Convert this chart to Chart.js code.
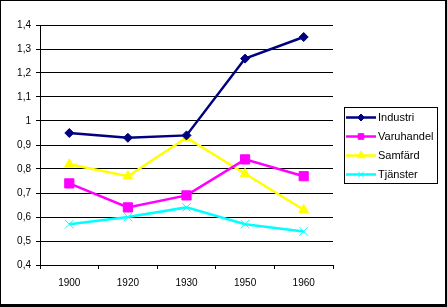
<!DOCTYPE html>
<html>
<head>
<meta charset="utf-8">
<script src="https://cdn.jsdelivr.net/npm/chart.js@4"></script>
<style>
  html, body { margin: 0; padding: 0; background: #fff; }
  canvas { display: block; }
</style>
</head>
<body>
<canvas id="chart" width="447" height="307"></canvas>
<script>
// data
const years = ['1900', '1920', '1930', '1950', '1960'];
const industri = [0.95, 0.93, 0.94, 1.26, 1.35];
const varuhandel = [0.74, 0.64, 0.69, 0.84, 0.77];
const samfard = [0.82, 0.77, 0.93, 0.78, 0.63];
const tjanster = [0.57, 0.60, 0.64, 0.57, 0.54];
const yMin = 0.4;
const yMax = 1.4;
const yStep = 0.1;

const FONT = '"Liberation Sans", Arial, sans-serif';

function fmt(v) {
  // 1.0 -> "1", 0.9 -> "0,9"
  return String(Number(v.toFixed(1))).replace('.', ',');
}

// white background + frame with heavier right/bottom edge
const framePlugin = {
  id: 'frame',
  beforeDraw(chart) {
    const { ctx, width, height } = chart;
    ctx.save();
    ctx.fillStyle = '#fff';
    ctx.fillRect(0, 0, width, height);
    ctx.fillStyle = '#000';
    ctx.fillRect(0, 0, width, 1);
    ctx.fillRect(0, 0, 1, height);
    ctx.fillRect(width - 2, 0, 2, height);
    ctx.fillRect(0, height - 3, width, 3);
    ctx.restore();
  },
};

const legendSizes = [3.5, 4, 4.5, 4];

const boxLegend = {
  id: 'boxLegend',
  afterDraw(chart) {
    const ctx = chart.ctx;
    ctx.save();
    ctx.strokeStyle = '#000';
    ctx.lineWidth = 1;
    ctx.strokeRect(344.5, 107.5, 93, 76);
    chart.data.datasets.forEach((ds, i) => {
      const y = 117.5 + i * 19;
      ctx.strokeStyle = ds.borderColor;
      ctx.lineWidth = 2.5;
      ctx.beginPath();
      ctx.moveTo(346, y);
      ctx.lineTo(376, y);
      ctx.stroke();
      ctx.fillStyle = ds.pointBackgroundColor;
      ctx.strokeStyle = ds.pointBorderColor;
      ctx.lineWidth = 1;
      if (Chart.helpers && Chart.helpers.drawPoint) {
        Chart.helpers.drawPoint(ctx, {
          pointStyle: ds.pointStyle,
          radius: legendSizes[i],
          borderWidth: 1,
          rotation: 0,
        }, 361, y);
      }
      ctx.fillStyle = '#000';
      ctx.font = '11px ' + FONT;
      ctx.textBaseline = 'middle';
      ctx.textAlign = 'left';
      ctx.fillText(ds.label, 378, y + 0.5);
    });
    ctx.restore();
  },
};

function series(label, data, color, style, radius) {
  return {
    label,
    data,
    borderColor: color,
    backgroundColor: color,
    pointBackgroundColor: color,
    pointBorderColor: color,
    pointStyle: style,
    pointRadius: radius,
    pointHoverRadius: radius,
    pointBorderWidth: 1,
    borderWidth: 2.5,
    tension: 0,
    fill: false,
  };
}

new Chart(document.getElementById('chart'), {
  type: 'line',
  data: {
    labels: years,
    datasets: [
      series('Industri', industri, '#000080', 'rectRot', 4.5),
      series('Varuhandel', varuhandel, '#FF00FF', 'rect', 6.5),
      series('Samfärd', samfard, '#FFFF00', 'triangle', 5.5),
      series('Tjänster', tjanster, '#00FFFF', 'crossRot', 6),
    ],
  },
  options: {
    responsive: false,
    animation: false,
    layout: { padding: { left: 0, top: 25, right: 114, bottom: 0 } },
    plugins: {
      legend: { display: false },
      tooltip: { enabled: false },
    },
    scales: {
      x: {
        offset: true,
        afterFit: (s) => { s.height = 42; },
        grid: {
          offset: true,
          drawOnChartArea: false,
          tickLength: 4,
          color: '#000',
        },
        border: { color: '#000', width: 1 },
        ticks: {
          color: '#000',
          padding: 8,
          maxRotation: 0,
          font: { family: FONT, size: 10 },
        },
      },
      y: {
        min: yMin,
        max: yMax,
        afterFit: (s) => { s.width = 40; },
        grid: {
          color: '#000',
          tickLength: 4,
        },
        border: { color: '#000', width: 1 },
        ticks: {
          stepSize: yStep,
          color: '#000',
          padding: 5,
          font: { family: FONT, size: 10 },
          callback: (v) => fmt(v),
        },
      },
    },
  },
  plugins: [framePlugin, boxLegend],
});
</script>
</body>
</html>
